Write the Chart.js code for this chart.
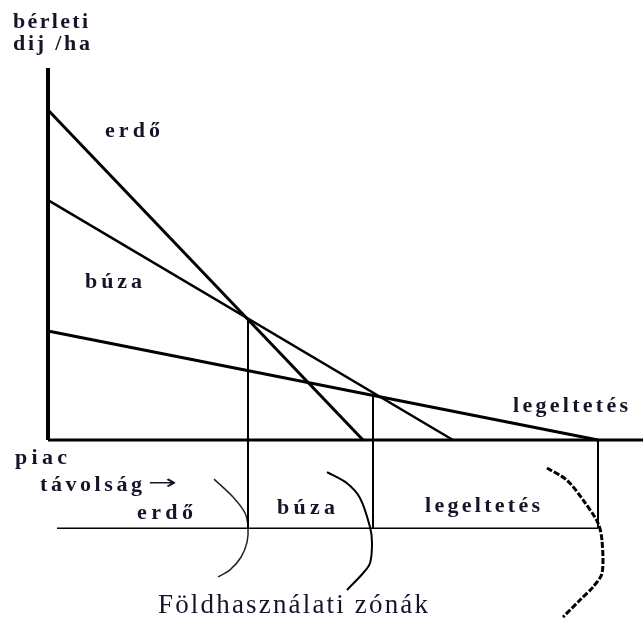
<!DOCTYPE html>
<html>
<head>
<meta charset="utf-8">
<script src="https://cdn.jsdelivr.net/npm/chart.js@4/dist/chart.umd.min.js"></script>
<style>
  html, body { margin: 0; padding: 0; background: #fff; }
  #wrap { width: 643px; height: 619px; position: relative; }
</style>
</head>
<body>
<div id="wrap"><canvas id="grafico"></canvas></div>
<script>
// bérleti díj (y) a piactól mért távolság (x) függvényében
const crops = ["erdő", "búza", "legeltetés"];
const rentAtMarket = [8.87, 6.45, 2.93];
const zeroRentDistance = [6.3, 8.1, 11.0];

// zónahatárok: metszéspontok és a lenti sáv
const zoneBounds = [4.0, 6.5, 11.0];
const boundRent = [3.24, 1.27, 0];
const zoneRowY = -2.37;
const zoneRowStart = 0.18;

// körívek (zónák)
const arc1X = [3.32, 3.70, 3.94, 4.0, 3.98, 3.86, 3.64, 3.40];
const arc1Y = [-1.05, -1.53, -1.96, -2.34, -2.75, -3.15, -3.49, -3.68];
const arc2X = [5.58, 5.98, 6.24, 6.44, 6.48, 6.44, 6.30, 5.98];
const arc2Y = [-0.86, -1.16, -1.56, -2.34, -2.77, -3.31, -3.58, -4.03];
const arc3X = [9.98, 10.38, 10.70, 11.0, 11.08, 11.08, 10.90, 10.64, 10.30];
const arc3Y = [-0.75, -1.08, -1.61, -2.23, -2.70, -3.58, -3.95, -4.30, -4.76];

const xMax = 11.9;
const yMax = 10;
const yMin = -4.81;

const pts = (xs, ys) => xs.map((x, i) => ({ x, y: ys[i] }));

const datasets = [];

// tengelyek
datasets.push({ data: [{ x: 0, y: 0 }, { x: 0, y: yMax }], borderWidth: 4 });
datasets.push({ data: [{ x: 0, y: 0 }, { x: xMax, y: 0 }], borderWidth: 3 });

// járadékgörbék
crops.forEach((c, i) => {
  datasets.push({
    label: c,
    data: [{ x: 0, y: rentAtMarket[i] }, { x: zeroRentDistance[i], y: 0 }],
    borderWidth: i === 1 ? 2.5 : 3
  });
});

// függőleges határok
zoneBounds.forEach((b, i) => {
  datasets.push({ data: [{ x: b, y: boundRent[i] }, { x: b, y: zoneRowY }], borderWidth: 2 });
});
datasets.push({ data: [{ x: zoneRowStart, y: zoneRowY }, { x: zoneBounds[2], y: zoneRowY }], borderWidth: 1.5 });

datasets.push({ data: pts(arc1X, arc1Y), borderWidth: 1.5, tension: 0.3, borderColor: "#222" });
datasets.push({ data: pts(arc2X, arc2Y), borderWidth: 2, tension: 0.3 });
datasets.push({ data: pts(arc3X, arc3Y), borderWidth: 3, tension: 0.3, borderDash: [6, 2] });

datasets.forEach(d => {
  d.borderColor = d.borderColor || "#000";
  d.pointRadius = 0;
  d.clip = false;
  d.fill = false;
  d.tension = d.tension || 0;
});

// feliratok: bal szél, középvonal (adategységben), szélesség px
const B = "bold 22px 'Liberation Serif'";
const feliratok = [
  { t: "bérleti", x: -0.70, y: 11.24, w: 75, f: B },
  { t: "dij /ha", x: -0.70, y: 10.65, w: 77, f: B },
  { t: "erdő", x: 1.14, y: 8.31, w: 55, f: B },
  { t: "búza", x: 0.74, y: 4.25, w: 57, f: B },
  { t: "legeltetés", x: 9.30, y: 0.91, w: 115, f: B },
  { t: "piac", x: -0.66, y: -0.48, w: 52, f: B },
  { t: "távolság", x: -0.16, y: -1.21, w: 102, f: B },
  { t: "→", x: 2.0, y: -1.18, w: 29, f: "20px 'DejaVu Sans'" },
  { t: "erdő", x: 1.78, y: -1.96, w: 56, f: B },
  { t: "búza", x: 4.58, y: -1.83, w: 58, f: B },
  { t: "legeltetés", x: 7.54, y: -1.77, w: 115, f: B },
  { t: "Földhasználati zónák", x: 2.20, y: -4.46, w: 270, f: "27px 'Liberation Serif'" }
];

const feliratPlugin = {
  id: "feliratok",
  afterDraw(chart) {
    const ctx = chart.ctx;
    const sx = chart.scales.x, sy = chart.scales.y;
    ctx.save();
    ctx.fillStyle = "#15152a";
    ctx.textBaseline = "middle";
    ctx.textAlign = "left";
    feliratok.forEach(l => {
      ctx.font = l.f;
      const chars = Array.from(l.t);
      const widths = chars.map(ch => ctx.measureText(ch).width);
      const total = widths.reduce((a, b) => a + b, 0);
      let px = sx.getPixelForValue(l.x);
      const py = sy.getPixelForValue(l.y);
      if (chars.length === 1) {
        ctx.save();
        ctx.translate(px, py);
        ctx.scale(l.w / total, 1);
        ctx.fillText(l.t, 0, 0);
        ctx.restore();
        return;
      }
      const gap = (l.w - total) / (chars.length - 1);
      chars.forEach((ch, i) => {
        ctx.fillText(ch, px, py);
        px += widths[i] + gap;
      });
    });
    ctx.restore();
  }
};

new Chart(document.getElementById("grafico"), {
  type: "line",
  data: { datasets },
  options: {
    responsive: true,
    maintainAspectRatio: false,
    animation: false,
    layout: { padding: { left: 48, top: 68, right: 0, bottom: 0 } },
    plugins: { legend: { display: false }, tooltip: { enabled: false } },
    scales: {
      x: { type: "linear", min: 0, max: xMax, display: false },
      y: { type: "linear", min: yMin, max: yMax, display: false }
    }
  },
  plugins: [feliratPlugin]
});
</script>
</body>
</html>
